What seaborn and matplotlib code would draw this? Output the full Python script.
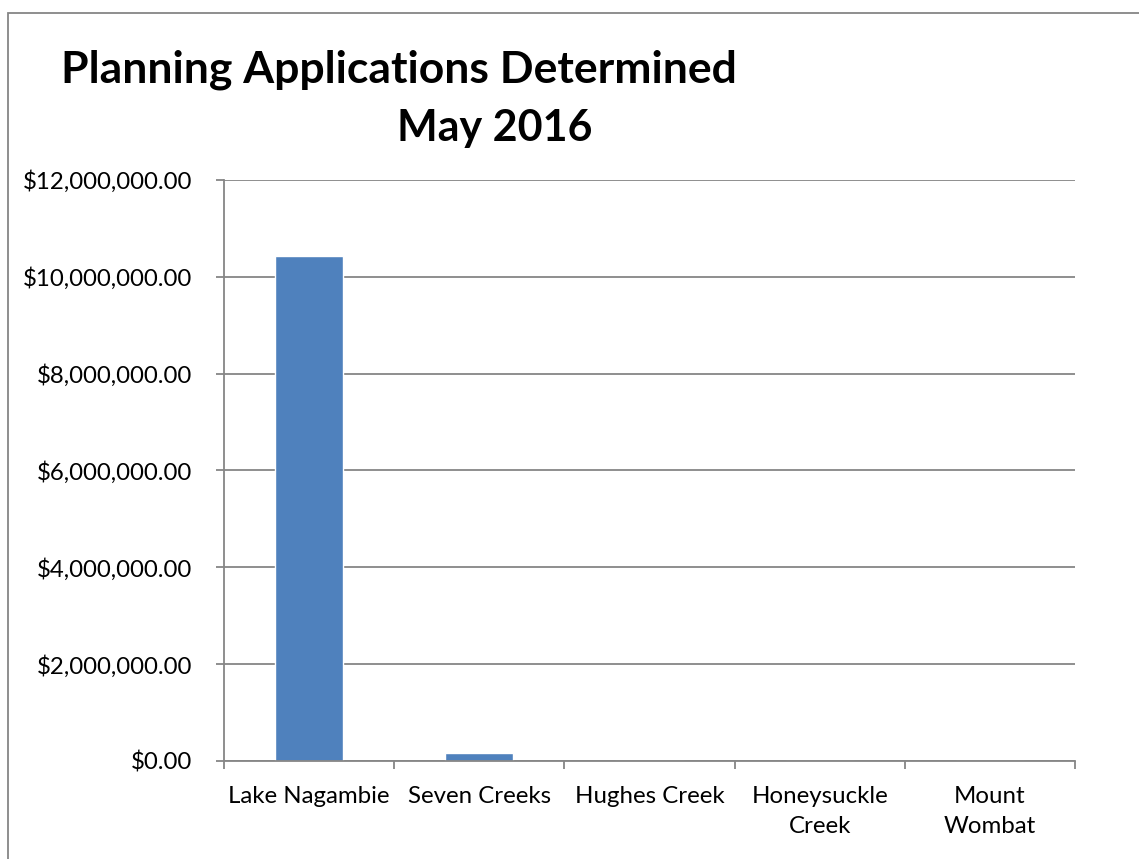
import seaborn as sns
import pandas as pd
import matplotlib
matplotlib.use("Agg")
import matplotlib.pyplot as plt
from matplotlib.ticker import FuncFormatter, FixedLocator
from matplotlib.patches import Rectangle

areas = ["Lake Nagambie", "Seven Creeks", "Hughes Creek", "Honeysuckle\nCreek", "Mount\nWombat"]
values = [10430000, 155000, 0, 0, 0]
y_ticks = [0, 2000000, 4000000, 6000000, 8000000, 10000000, 12000000]

sns.set_style("white")
plt.rcParams['font.family'] = ['Lato', 'DejaVu Sans']
plt.rcParams['text.color'] = 'black'
plt.rcParams['xtick.color'] = 'black'
plt.rcParams['ytick.color'] = 'black'

df = pd.DataFrame({"area": areas, "value": values})

fig = plt.figure(figsize=(11.39, 8.59), dpi=100)
ax = fig.add_axes([224/1139, 1 - 761/859, (1075 - 224)/1139, (761 - 180)/859])

sns.barplot(data=df, x="area", y="value", color="#4F81BD", width=0.4,
            saturation=1, ax=ax)

ax.set_ylim(0, 12000000)
ax.set_xlim(-0.5, len(areas) - 0.5)
ax.yaxis.set_major_locator(FixedLocator(y_ticks))
ax.yaxis.set_major_formatter(FuncFormatter(lambda v, p: f"${v:,.2f}"))
ax.grid(axis="y", color="#868686", linewidth=1.3)
ax.set_axisbelow(True)

# category boundaries as major ticks, labels on minor ticks
ax.set_xticks([i - 0.5 for i in range(len(areas) + 1)])
ax.set_xticklabels([])
ax.set_xticks(range(len(areas)), minor=True)
ax.set_xticklabels(areas, minor=True, linespacing=1.55)
ax.tick_params(axis="x", which="major", direction="out", length=6, width=1.3,
               color="#868686", bottom=True)
ax.tick_params(axis="x", which="minor", length=0, pad=18, labelsize=17.3)
ax.tick_params(axis="y", direction="out", length=6, width=1.3, color="#868686",
               left=True, pad=17, labelsize=17.3)

for side in ["top", "right"]:
    ax.spines[side].set_visible(False)
for side in ["left", "bottom"]:
    ax.spines[side].set_color("#868686")
    ax.spines[side].set_linewidth(1.3)

ax.set_xlabel("")
ax.set_ylabel("")

# title: two lines, second one offset as in the original
fig.text(399/1139, 1 - 82/859, "Planning Applications Determined",
         ha="center", va="baseline", fontsize=32, fontweight="bold", color="black")
fig.text(397/1139, 1 - 141/859, "May 2016",
         ha="left", va="baseline", fontsize=31, fontweight="bold", color="black")

# outer chart frame
fig.patches.append(Rectangle((8/1139, -0.05), 1.1, 1 - 13/859 + 0.05,
                             transform=fig.transFigure, fill=False,
                             edgecolor="#868686", linewidth=1.3))

fig.savefig("out.png", dpi=100, facecolor="white")
